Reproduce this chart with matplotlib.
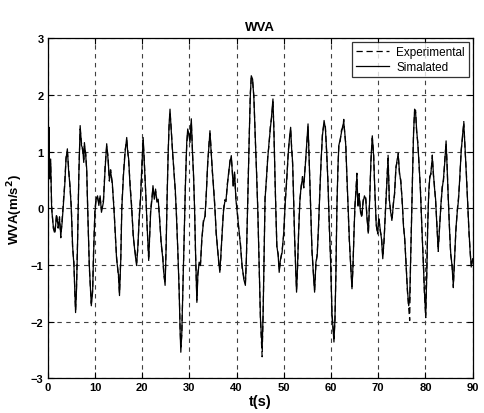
import numpy as np
import matplotlib
matplotlib.use("Agg")
import matplotlib.pyplot as plt

# Values (time in s, WVA in m/s^2)
t = [0.0, 0.13, 0.27, 0.41, 0.62, 0.83, 1.17, 1.52, 1.87, 2.2, 2.5, 2.77, 3.05, 3.26, 3.6, 3.88,
     4.16, 4.44, 4.72, 4.99, 5.27, 5.55, 5.76, 5.9, 6.1, 6.31, 6.59, 6.87, 7.15, 7.42, 7.63, 7.77,
     8.05, 8.26, 8.46, 8.81, 9.23, 9.51, 9.72, 10.0, 10.27, 10.55, 10.83, 11.1, 11.38, 11.8, 12.15,
     12.49, 12.77, 13.05, 13.33, 13.67, 14.02, 14.3, 14.58, 15.0, 15.2, 15.48, 15.69, 16.04, 16.39,
     16.73, 16.94, 17.15, 17.43, 17.78, 18.12, 18.47, 18.82, 19.1, 19.37, 19.65, 19.93, 20.21, 20.48,
     20.76, 21.04, 21.39, 21.6, 21.8, 22.08, 22.29, 22.57, 22.84, 23.12, 23.4, 23.68, 24.03, 24.37,
     24.58, 24.86, 25.07, 25.28, 25.48, 25.69, 25.9, 26.18, 26.46, 26.73, 27.01, 27.29, 27.57, 27.84,
     28.05, 28.19, 28.4, 28.61, 28.89, 29.16, 29.44, 29.65, 29.93, 30.13, 30.41, 30.68, 30.89, 31.1,
     31.31, 31.59, 31.79, 32.07, 32.35, 32.63, 32.98, 33.32, 33.6, 33.88, 34.16, 34.36, 34.57, 34.85,
     35.13, 35.41, 35.68, 35.96, 36.24, 36.45, 36.66, 36.93, 37.21, 37.49, 37.77, 38.04, 38.32, 38.6,
     38.88, 39.09, 39.29, 39.57, 39.85, 40.13, 40.48, 40.82, 41.17, 41.52, 41.86, 42.07, 42.28, 42.49,
     42.7, 42.91, 43.11, 43.39, 43.67, 43.95, 44.22, 44.5, 44.78, 45.06, 45.41, 45.62, 45.82, 46.03,
     46.31, 46.59, 46.87, 47.14, 47.42, 47.7, 47.91, 48.12, 48.32, 48.53, 48.81, 49.02, 49.3, 49.64,
     49.99, 50.27, 50.62, 50.96, 51.24, 51.45, 51.66, 51.87, 52.07, 52.28, 52.49, 52.7, 52.91, 53.12,
     53.39, 53.67, 53.95, 54.23, 54.5, 54.78, 55.13, 55.34, 55.55, 55.75, 55.96, 56.24, 56.52, 56.8,
     57.07, 57.35, 57.63, 57.91, 58.18, 58.53, 58.81, 59.09, 59.37, 59.64, 59.92, 60.2, 60.62, 60.83,
     61.03, 61.24, 61.45, 61.66, 61.94, 62.21, 62.49, 62.7, 62.91, 63.12, 63.33, 63.6, 63.88, 64.16,
     64.44, 64.65, 64.85, 65.06, 65.27, 65.48, 65.69, 65.96, 66.24, 66.52, 66.8, 67.08, 67.35, 67.63,
     67.91, 68.19, 68.46, 68.74, 69.02, 69.3, 69.58, 69.85, 70.13, 70.41, 70.69, 70.96, 71.24, 71.52,
     71.8, 72.08, 72.35, 72.63, 72.91, 73.19, 73.46, 73.74, 74.02, 74.23, 74.5, 74.78, 75.06, 75.34,
     75.62, 75.9, 76.17, 76.45, 76.66, 76.87, 77.08, 77.29, 77.49, 77.7, 77.91, 78.12, 78.4, 78.67,
     78.95, 79.23, 79.51, 79.79, 80.06, 80.27, 80.48, 80.69, 80.9, 81.17, 81.45, 81.66, 81.87, 82.15,
     82.42, 82.7, 82.98, 83.26, 83.54, 83.81, 84.09, 84.37, 84.58, 84.79, 85.06, 85.34, 85.62, 85.9,
     86.17, 86.45, 86.73, 87.01, 87.29, 87.56, 87.84, 88.12, 88.4, 88.67, 88.95, 89.23, 89.51, 89.72,
     90.0]

simulated = [-0.13, 0.87, 1.43, 0.52, 0.87, -0.01, -0.31, -0.42, -0.13, -0.31, -0.19, -0.48, -0.25,
             -0.01, 0.4, 0.87, 1.05, 0.64, 0.4, -0.01, -0.66, -1.01, -1.48, -1.84, -1.42, -0.66, 0.58,
             1.46, 1.11, 1.05, 0.81, 1.16, 0.93, 0.69, -0.01, -1.01, -1.72, -1.48, -0.78, -0.07, 0.16,
             0.22, 0.05, 0.22, -0.07, 0.11, 0.69, 1.14, 0.87, 0.52, 0.64, 0.46, -0.01, -0.42, -0.89,
             -1.19, -1.54, -0.89, -0.01, 0.58, 0.99, 1.25, 0.99, 0.87, 0.4, -0.01, -0.48, -0.78, -1.01,
             -0.66, -0.19, 0.16, 0.69, 1.25, 0.75, 0.28, -0.31, -0.89, -0.48, -0.07, 0.16, 0.4, 0.16,
             0.34, 0.11, 0.16, -0.19, -0.6, -0.89, -1.13, -1.36, -0.72, 0.16, 0.87, 1.46, 1.75, 1.34,
             0.99, 0.64, 0.34, -0.19, -0.78, -1.48, -2.19, -2.54, -2.19, -1.48, -0.6, 0.4, 1.16, 1.4,
             1.28, 1.16, 1.58, 0.93, 0.58, -0.01, -0.78, -1.66, -1.19, -0.95, -1.01, -0.54, -0.25,
             -0.13, 0.28, 0.81, 1.11, 1.37, 1.05, 0.69, 0.34, -0.01, -0.42, -0.72, -0.95, -1.13, -0.84,
             -0.48, -0.07, 0.11, 0.16, 0.4, 0.64, 0.81, 0.93, 0.64, 0.4, 0.64, 0.16, -0.07, -0.36,
             -0.66, -1.01, -1.25, -1.36, -0.89, -0.19, 0.58, 1.34, 1.99, 2.34, 2.28, 1.93, 1.28, 0.64,
             -0.07, -1.01, -1.95, -2.48, -1.84, -0.89, 0.16, 0.52, 0.87, 1.16, 1.4, 1.64, 1.93, 1.34,
             0.58, -0.07, -0.66, -0.84, -1.13, -0.89, -0.78, -0.42, 0.05, 0.52, 0.99, 1.28, 1.43, 1.05,
             0.81, 0.16, -0.48, -1.01, -1.48, -1.01, -0.48, 0.11, 0.4, 0.52, 0.4, 0.69, 1.05, 1.49,
             0.93, 0.4, -0.19, -0.72, -1.13, -1.48, -0.95, -0.84, -0.31, 0.28, 0.87, 1.28, 1.55, 1.4,
             0.99, 0.4, -0.31, -0.95, -1.84, -2.36, -1.95, -1.19, -0.01, 0.69, 1.11, 1.22, 1.34, 1.46,
             1.52, 1.34, 1.11, 0.64, -0.01, -0.54, -1.01, -1.42, -1.01, -0.48, 0.05, 0.28, 0.58, 0.05,
             0.22, -0.07, -0.13, 0.11, 0.22, 0.16, -0.19, -0.42, 0.16, 0.87, 1.28, 0.93, 0.28, -0.31,
             -0.42, -0.19, -0.36, -0.54, -0.89, -0.54, -0.07, 0.4, 0.87, 0.16, -0.07, -0.19, 0.05, 0.28,
             0.69, 0.87, 0.93, 0.64, 0.46, 0.16, -0.31, -0.54, -1.01, -1.42, -1.72, -1.6, -0.89, -0.13,
             0.69, 1.34, 1.75, 1.69, 1.4, 1.11, 0.75, 0.28, -0.31, -0.89, -1.48, -1.89, -1.19, -0.31,
             0.28, 0.52, 0.64, 0.9, 0.64, 0.4, 0.16, -0.31, -0.72, -0.36, 0.05, 0.34, 0.52, 0.81, 1.19,
             0.75, 0.28, -0.31, -0.78, -1.01, -1.36, -0.89, -0.36, -0.07, 0.16, 0.58, 0.99, 1.28, 1.49,
             1.05, 0.58, 0.11, -0.42, -0.84, -1.01, -0.9]

experimental = [-0.05, 0.95, 1.38, 0.6, 0.8, 0.05, -0.35, -0.45, -0.1, -0.35, -0.15, -0.52, -0.2,
                0.03, 0.45, 0.9, 1.0, 0.7, 0.35, 0.04, -0.7, -0.95, -1.52, -1.8, -1.38, -0.6, 0.62,
                1.4, 1.15, 1.0, 0.86, 1.1, 0.97, 0.64, 0.04, -1.05, -1.68, -1.44, -0.72, -0.02, 0.2,
                0.18, 0.1, 0.18, -0.02, 0.15, 0.74, 1.1, 0.92, 0.48, 0.68, 0.42, 0.04, -0.46, -0.85,
                -1.23, -1.5, -0.84, 0.04, 0.62, 1.03, 1.2, 1.03, 0.82, 0.45, 0.04, -0.52, -0.74, -0.96,
                -0.7, -0.15, 0.2, 0.74, 1.2, 0.8, 0.24, -0.27, -0.93, -0.44, -0.02, 0.2, 0.36, 0.2,
                0.3, 0.15, 0.12, -0.15, -0.64, -0.85, -1.17, -1.32, -0.68, 0.2, 0.92, 1.42, 1.7, 1.38,
                0.95, 0.68, 0.3, -0.15, -0.82, -1.44, -2.15, -2.45, -2.23, -1.44, -0.56, 0.44, 1.12,
                1.36, 1.32, 1.2, 1.52, 0.97, 0.54, 0.03, -0.82, -1.62, -1.15, -0.99, -0.97, -0.58, -0.2,
                -0.17, 0.32, 0.77, 1.15, 1.32, 1.1, 0.65, 0.38, 0.03, -0.46, -0.68, -0.99, -1.09, -0.88,
                -0.44, -0.03, 0.15, 0.12, 0.44, 0.6, 0.85, 0.89, 0.68, 0.36, 0.6, 0.2, -0.03, -0.4,
                -0.62, -1.05, -1.21, -1.32, -0.93, -0.15, 0.62, 1.3, 2.04, 2.3, 2.24, 1.97, 1.24, 0.68,
                -0.03, -1.05, -1.99, -2.62, -1.88, -0.85, 0.2, 0.48, 0.91, 1.12, 1.44, 1.6, 1.88, 1.38,
                0.54, -0.03, -0.7, -0.8, -1.09, -0.93, -0.74, -0.46, 0.09, 0.48, 1.03, 1.24, 1.38, 1.09,
                0.77, 0.2, -0.52, -0.97, -1.44, -1.05, -0.44, 0.15, 0.36, 0.56, 0.36, 0.73, 1.01, 1.45,
                0.97, 0.36, -0.15, -0.76, -1.09, -1.44, -0.99, -0.8, -0.35, 0.32, 0.83, 1.32, 1.5, 1.44,
                0.95, 0.44, -0.35, -0.91, -1.88, -2.3, -1.99, -1.15, 0.03, 0.65, 1.15, 1.18, 1.38, 1.42,
                1.57, 1.3, 1.15, 0.6, 0.03, -0.58, -0.97, -1.38, -1.05, -0.44, 0.01, 0.32, 0.62, 0.01,
                0.26, -0.03, -0.17, 0.15, 0.18, 0.2, -0.15, -0.46, 0.2, 0.83, 1.24, 0.97, 0.24, -0.27,
                -0.46, -0.15, -0.4, -0.5, -0.85, -0.58, -0.03, 0.44, 0.95, 0.12, -0.03, -0.23, 0.09, 0.24,
                0.73, 0.83, 0.97, 0.6, 0.5, 0.12, -0.27, -0.58, -0.97, -1.46, -1.76, -1.98, -0.85, -0.09,
                0.65, 1.38, 1.7, 1.73, 1.36, 1.15, 0.71, 0.32, -0.35, -0.85, -1.52, -1.93, -1.15, -0.27,
                0.24, 0.56, 0.6, 0.94, 0.6, 0.44, 0.12, -0.27, -0.76, -0.32, 0.01, 0.38, 0.48, 0.85, 1.15,
                0.79, 0.24, -0.27, -0.82, -0.97, -1.4, -0.85, -0.4, -0.03, 0.2, 0.54, 1.03, 1.24, 1.53,
                1.01, 0.62, 0.07, -0.46, -0.8, -1.05, -0.86]

xticks = [0, 10, 20, 30, 40, 50, 60, 70, 80, 90]
yticks = [-3, -2, -1, 0, 1, 2, 3]

plt.rcParams['font.family'] = ['Liberation Sans', 'DejaVu Sans']

fig = plt.figure(figsize=(4.84, 4.14), dpi=100)
ax = fig.add_axes([0.0986, 0.0838, 0.878, 0.8212])

ax.plot(t, experimental, color='black', linestyle=(0, (5, 3)), linewidth=0.9, label='Experimental')
ax.plot(t, simulated, color='black', linestyle='-', linewidth=0.9, label='Simalated')

ax.set_xlim(0, 90)
ax.set_ylim(-3, 3)
ax.set_xticks(xticks)
ax.set_yticks(yticks)
ax.tick_params(direction='in', top=True, right=True, length=4, width=0.8, labelsize=8, pad=3)
for lab in ax.get_xticklabels() + ax.get_yticklabels():
    lab.set_fontweight('bold')
ax.grid(True, color='0.25', linestyle=(0, (4, 4)), linewidth=0.8)
for sp in ax.spines.values():
    sp.set_linewidth(0.9)

ax.set_title('WVA', fontsize=9.5, fontweight='bold', pad=6)
ax.set_xlabel('t(s)', fontsize=10.5, fontweight='bold', labelpad=1)
ax.set_ylabel('WVA(m/s$^\\mathbf{2}$)', fontsize=9.5, fontweight='bold', labelpad=4)

leg = ax.legend(loc='upper right', fontsize=8.5, frameon=True, fancybox=False,
                borderaxespad=0.3, handlelength=2.8, borderpad=0.35, labelspacing=0.25,
                handletextpad=0.6)
leg.get_frame().set_edgecolor('black')
leg.get_frame().set_linewidth(0.9)

fig.savefig('out.png', dpi=100)
